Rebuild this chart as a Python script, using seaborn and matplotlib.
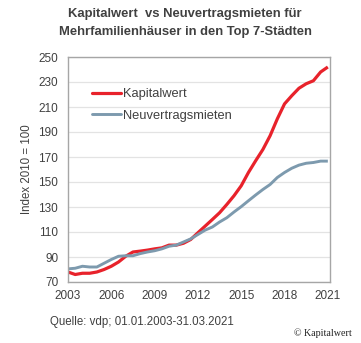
import matplotlib
matplotlib.use("Agg")
import matplotlib.pyplot as plt
import seaborn as sns
import pandas as pd

years = [2003.0, 2003.5, 2004.0, 2004.5, 2005.0, 2005.5, 2006.0, 2006.5, 2007.0, 2007.5,
         2008.0, 2008.5, 2009.0, 2009.5, 2010.0, 2010.5, 2011.0, 2011.5, 2012.0, 2012.5,
         2013.0, 2013.5, 2014.0, 2014.5, 2015.0, 2015.5, 2016.0, 2016.5, 2017.0, 2017.5,
         2018.0, 2018.5, 2019.0, 2019.5, 2020.0, 2020.5, 2021.0]
kapitalwert = [78, 76, 77, 77, 78, 80, 82.6, 86, 90.6, 94,
               94.7, 95.5, 96.5, 97.3, 99.5, 99.5, 101, 104, 109.4, 114.7,
               120, 125.4, 132, 139, 147, 157.6, 167, 176, 187, 200.5,
               212.5, 219, 225, 228.6, 231, 238, 242]
neuvertragsmieten = [80.5, 81, 82.6, 82, 82, 85, 88, 90.6, 91, 91,
                     92.7, 94, 95, 96.5, 98.6, 99.5, 102, 104.5, 108, 111.5,
                     114, 118, 121.4, 126, 130.3, 135, 139.6, 144, 148, 153.6,
                     157.6, 161, 163.5, 165, 165.6, 166.7, 166.7]
series_names = ["Kapitalwert", "Neuvertragsmieten"]
x_ticks = [2003, 2006, 2009, 2012, 2015, 2018, 2021]
y_ticks = [70, 90, 110, 130, 150, 170, 190, 210, 230, 250]

df = pd.DataFrame({
    "Jahr": years * 2,
    "Wert": kapitalwert + neuvertragsmieten,
    "Serie": [series_names[0]] * len(years) + [series_names[1]] * len(years),
})

sns.set_theme(style="white")
plt.rcParams["font.family"] = ["Liberation Sans", "DejaVu Sans"]
txt = "#404040"

fig = plt.figure(figsize=(3.61, 3.43), dpi=100)
ax = fig.add_axes([68 / 361, 1 - 282 / 343, 262 / 361, 225 / 343])

sns.lineplot(data=df, x="Jahr", y="Wert", hue="Serie",
             palette={series_names[0]: "#e8222b", series_names[1]: "#7d9aae"},
             ax=ax, legend=True)
for line, lw in zip(ax.lines, [2.3, 2.1]):
    line.set_linewidth(lw)
    line.set_solid_capstyle("butt")

ax.set_xlim(2003, 2021.15)
ax.set_ylim(70, 250)
ax.set_xticks(x_ticks)
ax.set_yticks(y_ticks)
ax.grid(axis="y", color="#e3e3e3", linewidth=0.9)
ax.set_axisbelow(True)
for s in ax.spines.values():
    s.set_color("#a6a6a6")
    s.set_linewidth(1.0)
ax.tick_params(axis="both", length=0, labelsize=8.5, colors=txt)
ax.tick_params(axis="x", pad=6)
ax.tick_params(axis="y", pad=7)
ax.set_xlabel("")
ax.set_ylabel("Index 2010 = 100", fontsize=8.3, color=txt, labelpad=4)

leg = ax.legend(loc="upper left", bbox_to_anchor=(0.07, 0.885), frameon=False,
                fontsize=9.3, handlelength=2.3, handletextpad=0.15,
                labelspacing=0.75, borderaxespad=0)
for t in leg.get_texts():
    t.set_color(txt)
for h, lw in zip(leg.get_lines(), [2.3, 2.1]):
    h.set_linewidth(lw)

fig.text(0.513, 1 - 14 / 343, "Kapitalwert  vs Neuvertragsmieten für",
         ha="center", va="center", fontsize=9.4, fontweight="bold", color=txt)
fig.text(0.513, 1 - 32 / 343, "Mehrfamilienhäuser in den Top 7-Städten",
         ha="center", va="center", fontsize=9.4, fontweight="bold", color=txt)
fig.text(50 / 361, 1 - 322 / 343, "Quelle: vdp; 01.01.2003-31.03.2021",
         ha="left", va="center", fontsize=8.3, color=txt)
fig.text(352 / 361, 1 - 333 / 343, "© Kapitalwert", ha="right", va="center",
         fontsize=7.2, color="#222222", family=["Liberation Serif", "DejaVu Serif"])

fig.savefig("out.png", dpi=100)
